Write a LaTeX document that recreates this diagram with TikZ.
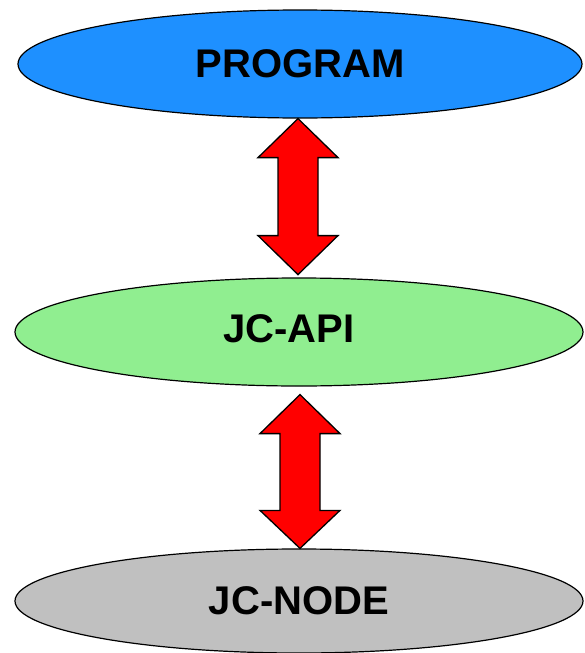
\documentclass[tikz,border=0pt]{standalone}
\usepackage{fontspec}
\setmainfont{Liberation Sans}
\usetikzlibrary{shapes.geometric,calc}
\definecolor{progblue}{HTML}{1E90FF}
\definecolor{apigreen}{HTML}{90EE90}
\definecolor{nodegray}{HTML}{C0C0C0}
\tikzset{
  labeltext/.style={font=\fontsize{40}{48}\selectfont\bfseries, inner sep=0pt},
  layer/.style={ellipse, draw=black, line width=1.2pt, inner sep=0pt, labeltext},
  blockarrow/.style={fill=red, draw=black, line width=1.3pt, line join=miter}
}
\begin{document}
\begin{tikzpicture}[x=1pt,y=-1pt]
\useasboundingbox (0,0) rectangle (585,653);
\node[layer, fill=progblue, minimum width=564pt, minimum height=108pt] (prog) at (300,64) {PROGRAM};
\node[layer, fill=apigreen, minimum width=568pt, minimum height=108pt] (api) at (299,332) {};
\node[labeltext] (apitext) at ($(api.center)+(-10,-3)$) {JC-API};
\node[layer, fill=nodegray, minimum width=568pt, minimum height=104pt] (jcnode) at (299,601) {JC-NODE};
% arrow 1
\coordinate (a1t) at ($(prog.south)+(-2,0)$);
\coordinate (a1b) at ($(a1t)+(0,156)$);
\draw[blockarrow] (a1t) -- ++(40,39) -- ++(-20,0) -- ($(a1b)+(20,-39)$) -- ++(20,0)
  -- (a1b) -- ++(-40,-39) -- ++(20,0) -- ($(a1t)+(-20,39)$) -- ++(-20,0) -- cycle;
% arrow 2
\coordinate (a2t) at ($(api.south)+(1,8)$);
\coordinate (a2b) at (jcnode.north -| a2t);
\draw[blockarrow] (a2t) -- ++(40,39) -- ++(-20,0) -- ($(a2b)+(20,-38)$) -- ++(20,0)
  -- (a2b) -- ++(-40,-38) -- ++(20,0) -- ($(a2t)+(-20,39)$) -- ++(-20,0) -- cycle;
\end{tikzpicture}
\end{document}
